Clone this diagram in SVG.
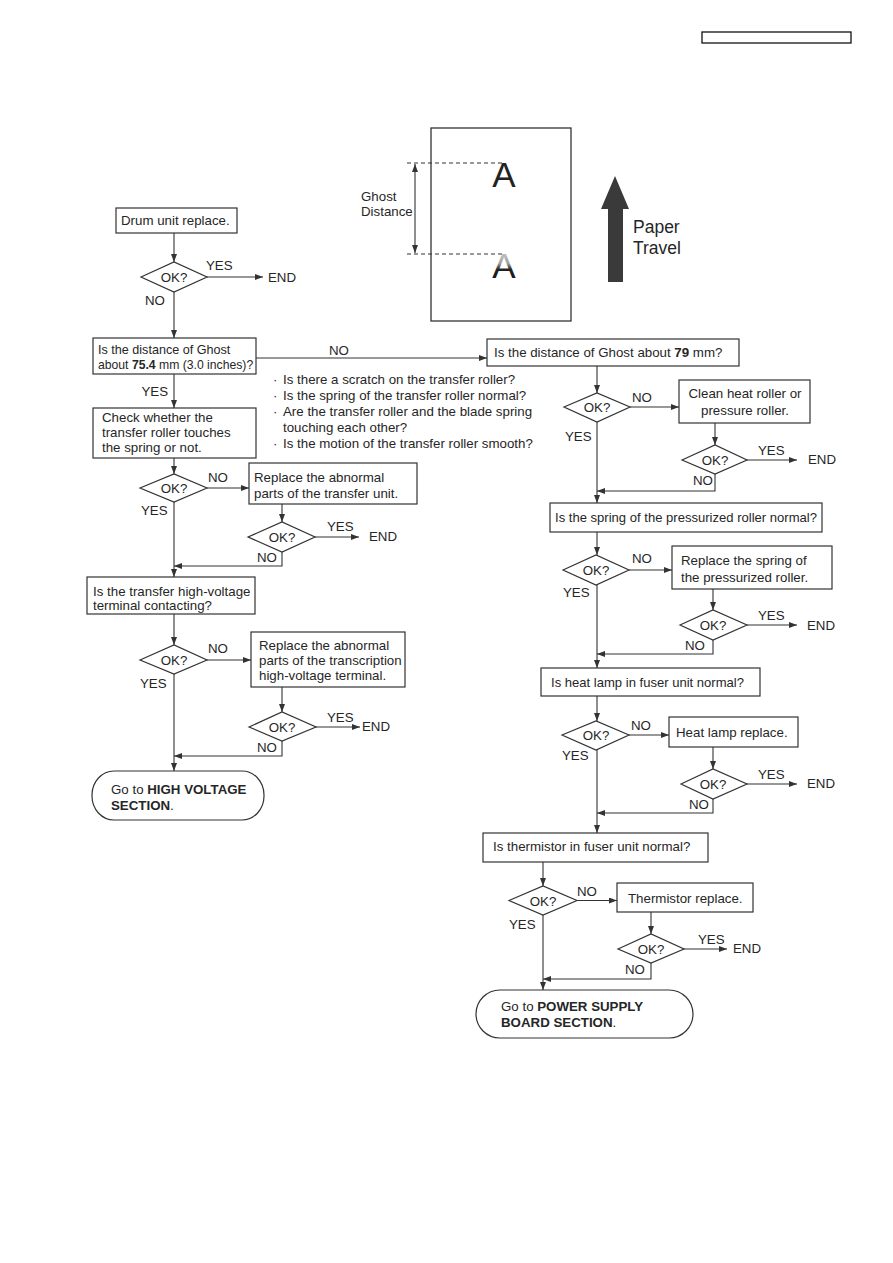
<svg xmlns="http://www.w3.org/2000/svg" width="893" height="1263" viewBox="0 0 893 1263">
<style>
text{font-family:"Liberation Sans",Arial,sans-serif;font-size:13.3px;fill:#262626}
.b{font-weight:bold}
.box{fill:#fff;stroke:#333;stroke-width:1.2}
.ln{fill:none;stroke:#333;stroke-width:1.1}
.m{text-anchor:middle}
</style>
<defs>
<marker id="ah" markerUnits="userSpaceOnUse" markerWidth="8" markerHeight="6" refX="8" refY="3" orient="auto">
<path d="M0,0 L8,3 L0,6 z" fill="#333"/>
</marker>
<marker id="ahs" markerUnits="userSpaceOnUse" markerWidth="8" markerHeight="6" refX="0" refY="3" orient="auto">
<path d="M8,0 L0,3 L8,6 z" fill="#333"/>
</marker>
<linearGradient id="ghost" x1="0" y1="0" x2="0" y2="1">
<stop offset="0" stop-color="#d8d8d8"/>
<stop offset="0.45" stop-color="#a0a0a0"/>
<stop offset="0.6" stop-color="#222"/>
<stop offset="1" stop-color="#111"/>
</linearGradient>
</defs>
<rect id="header" x="702" y="32" width="149" height="11" fill="none" stroke="#111" stroke-width="1.3"/>
<g id="ghost-figure">
<rect x="431" y="128" width="140" height="193" fill="#fff" stroke="#333" stroke-width="1.3"/>
<line x1="407" y1="163" x2="502" y2="163" stroke="#333" stroke-width="1" stroke-dasharray="4,3"/>
<line x1="407" y1="254" x2="502" y2="254" stroke="#333" stroke-width="1" stroke-dasharray="4,3"/>
<line x1="415" y1="164" x2="415" y2="253" stroke="#333" stroke-width="1.1" marker-start="url(#ahs)" marker-end="url(#ah)"/>
<text x="504" y="187" class="m" style="font-size:35px;fill:#222">A</text>
<text x="504" y="278" class="m" style="font-size:35px;fill:url(#ghost)">A</text>
<text x="361" y="201">Ghost</text>
<text x="361" y="216">Distance</text>
<path d="M615,176 L629,209 L623,209 L623,282 L608,282 L608,209 L601,209 Z" fill="#3a3a3a"/>
<text x="633" y="233" style="font-size:17.5px">Paper</text>
<text x="633" y="254" style="font-size:17.5px">Travel</text>
</g>
<g id="connectors">
<line class="ln" x1="174" y1="233" x2="174" y2="262" marker-end="url(#ah)"/>
<line class="ln" x1="207" y1="277" x2="263" y2="277" marker-end="url(#ah)"/>
<line class="ln" x1="174" y1="292" x2="174" y2="338" marker-end="url(#ah)"/>
<line class="ln" x1="256" y1="358" x2="487" y2="358" marker-end="url(#ah)"/>
<line class="ln" x1="174" y1="374" x2="174" y2="408" marker-end="url(#ah)"/>
<line class="ln" x1="174" y1="458" x2="174" y2="474" marker-end="url(#ah)"/>
<line class="ln" x1="207" y1="488" x2="249" y2="488" marker-end="url(#ah)"/>
<line class="ln" x1="282" y1="504" x2="282" y2="522" marker-end="url(#ah)"/>
<line class="ln" x1="315" y1="537" x2="359" y2="537" marker-end="url(#ah)"/>
<polyline class="ln" points="282,552 282,566 174,566" marker-end="url(#ah)"/>
<line class="ln" x1="174" y1="502" x2="174" y2="577" marker-end="url(#ah)"/>
<line class="ln" x1="174" y1="614" x2="174" y2="645" marker-end="url(#ah)"/>
<line class="ln" x1="207" y1="660" x2="251" y2="660" marker-end="url(#ah)"/>
<line class="ln" x1="282" y1="687" x2="282" y2="712" marker-end="url(#ah)"/>
<line class="ln" x1="316" y1="727" x2="360" y2="727" marker-end="url(#ah)"/>
<polyline class="ln" points="282,741 282,756 174,756" marker-end="url(#ah)"/>
<line class="ln" x1="174" y1="674" x2="174" y2="771" marker-end="url(#ah)"/>
<line class="ln" x1="597" y1="366" x2="597" y2="393" marker-end="url(#ah)"/>
<line class="ln" x1="630" y1="407" x2="679" y2="407" marker-end="url(#ah)"/>
<line class="ln" x1="715" y1="423" x2="715" y2="445" marker-end="url(#ah)"/>
<line class="ln" x1="747" y1="460" x2="797" y2="460" marker-end="url(#ah)"/>
<polyline class="ln" points="715,473 715,491 597,491" marker-end="url(#ah)"/>
<line class="ln" x1="597" y1="422" x2="597" y2="503" marker-end="url(#ah)"/>
<line class="ln" x1="597" y1="532" x2="597" y2="555" marker-end="url(#ah)"/>
<line class="ln" x1="629" y1="570" x2="672" y2="570" marker-end="url(#ah)"/>
<line class="ln" x1="713" y1="589" x2="713" y2="610" marker-end="url(#ah)"/>
<line class="ln" x1="747" y1="625" x2="797" y2="625" marker-end="url(#ah)"/>
<polyline class="ln" points="713,640 713,654 597,654" marker-end="url(#ah)"/>
<line class="ln" x1="597" y1="585" x2="597" y2="668" marker-end="url(#ah)"/>
<line class="ln" x1="597" y1="696" x2="597" y2="721" marker-end="url(#ah)"/>
<line class="ln" x1="629" y1="735" x2="669" y2="735" marker-end="url(#ah)"/>
<line class="ln" x1="713" y1="747" x2="713" y2="769" marker-end="url(#ah)"/>
<line class="ln" x1="747" y1="784" x2="797" y2="784" marker-end="url(#ah)"/>
<polyline class="ln" points="713,799 713,813 597,813" marker-end="url(#ah)"/>
<line class="ln" x1="597" y1="750" x2="597" y2="833" marker-end="url(#ah)"/>
<line class="ln" x1="543" y1="862" x2="543" y2="886" marker-end="url(#ah)"/>
<line class="ln" x1="577" y1="900.5" x2="617" y2="900.5" marker-end="url(#ah)"/>
<line class="ln" x1="651" y1="912" x2="651" y2="934" marker-end="url(#ah)"/>
<line class="ln" x1="684" y1="949" x2="727" y2="949" marker-end="url(#ah)"/>
<polyline class="ln" points="651,963 651,979 543,979" marker-end="url(#ah)"/>
<line class="ln" x1="543" y1="915" x2="543" y2="990" marker-end="url(#ah)"/>
</g>
<g id="labels">
<text x="206" y="270">YES</text><text x="268" y="282">END</text><text x="145" y="305">NO</text>
<text x="339" y="355" class="m">NO</text>
<text x="168" y="396" style="text-anchor:end">YES</text>
<text x="208" y="482">NO</text><text x="141" y="515">YES</text>
<text x="327" y="531">YES</text><text x="369" y="541">END</text><text x="257" y="562">NO</text>
<text x="208" y="653">NO</text><text x="140" y="688">YES</text>
<text x="327" y="722">YES</text><text x="362" y="731">END</text><text x="257" y="752">NO</text>
<text x="632" y="402">NO</text><text x="565" y="441">YES</text>
<text x="758" y="455">YES</text><text x="808" y="464">END</text><text x="693" y="485">NO</text>
<text x="632" y="563">NO</text><text x="563" y="597">YES</text>
<text x="758" y="620">YES</text><text x="807" y="630">END</text><text x="685" y="650">NO</text>
<text x="631" y="730">NO</text><text x="562" y="760">YES</text>
<text x="758" y="779">YES</text><text x="807" y="788">END</text><text x="689" y="809">NO</text>
<text x="577" y="896">NO</text><text x="509" y="929">YES</text>
<text x="698" y="944">YES</text><text x="733" y="953">END</text><text x="625" y="974">NO</text>
</g>
<g id="checklist">
<text y="384"><tspan x="273">·</tspan><tspan x="283">Is there a scratch on the transfer roller?</tspan></text>
<text y="400"><tspan x="273">·</tspan><tspan x="283">Is the spring of the transfer roller normal?</tspan></text>
<text y="416"><tspan x="273">·</tspan><tspan x="283">Are the transfer roller and the blade spring</tspan></text>
<text x="283" y="432">touching each other?</text>
<text y="448"><tspan x="273">·</tspan><tspan x="283">Is the motion of the transfer roller smooth?</tspan></text>
</g>
<g id="drum"><rect class="box" x="116" y="208" width="121" height="25"/><text x="121" y="225">Drum unit replace.</text></g>
<g id="d1"><polygon class="box" points="141,277 174,262 207,277 174,292"/><text x="174" y="282" class="m">OK?</text></g>
<g id="ghost-q1"><rect class="box" x="93" y="338" width="163" height="36"/><text x="98" y="354" style="font-size:12.6px">Is the distance of Ghost</text><text x="98" y="369" style="font-size:12.2px">about <tspan class="b">75.4</tspan> mm (3.0 inches)?</text></g>
<g id="check-spring"><rect class="box" x="93" y="408" width="163" height="50"/><text x="102" y="422">Check whether the</text><text x="102" y="437">transfer roller touches</text><text x="102" y="452">the spring or not.</text></g>
<g id="d2"><polygon class="box" points="140,488 174,474 207,488 174,502"/><text x="174" y="493" class="m">OK?</text></g>
<g id="replace-transfer"><rect class="box" x="249" y="463" width="168" height="41"/><text x="254" y="482">Replace the abnormal</text><text x="254" y="498">parts of the transfer unit.</text></g>
<g id="d3"><polygon class="box" points="248,537 282,522 315,537 282,552"/><text x="282" y="542" class="m">OK?</text></g>
<g id="hv-q"><rect class="box" x="87" y="577" width="168" height="37"/><text x="93" y="596">Is the transfer high-voltage</text><text x="93" y="610">terminal contacting?</text></g>
<g id="d4"><polygon class="box" points="140,660 174,645 207,660 174,674"/><text x="174" y="665" class="m">OK?</text></g>
<g id="replace-hv"><rect class="box" x="251" y="632" width="154" height="55"/><text x="259" y="650">Replace the abnormal</text><text x="259" y="665">parts of the transcription</text><text x="259" y="680">high-voltage terminal.</text></g>
<g id="d5"><polygon class="box" points="249,727 282,712 316,727 282,741"/><text x="282" y="732" class="m">OK?</text></g>
<g id="hv-section"><rect class="box" x="92" y="771" width="172" height="49" rx="22" ry="24"/><text x="111" y="794">Go to <tspan class="b">HIGH VOLTAGE</tspan></text><text x="111" y="810"><tspan class="b">SECTION</tspan>.</text></g>
<g id="ghost-q2"><rect class="box" x="487" y="339" width="252" height="27"/><text x="494" y="357">Is the distance of Ghost about <tspan class="b">79</tspan> mm?</text></g>
<g id="d6"><polygon class="box" points="564,407 597,393 630,407 597,422"/><text x="597" y="412" class="m">OK?</text></g>
<g id="clean"><rect class="box" x="679" y="380" width="131" height="43"/><text x="745" y="398" class="m">Clean heat roller or</text><text x="745" y="415" class="m">pressure roller.</text></g>
<g id="d7"><polygon class="box" points="682,460 715,445 747,460 715,474"/><text x="715" y="465" class="m">OK?</text></g>
<g id="spring-q"><rect class="box" x="550" y="503" width="272" height="29"/><text x="555" y="522" textLength="262" lengthAdjust="spacingAndGlyphs">Is the spring of the pressurized roller normal?</text></g>
<g id="d8"><polygon class="box" points="563,570 596,555 629,570 596,585"/><text x="596" y="575" class="m">OK?</text></g>
<g id="replace-spring"><rect class="box" x="672" y="546" width="160" height="43"/><text x="681" y="565">Replace the spring of</text><text x="681" y="582">the pressurized roller.</text></g>
<g id="d9"><polygon class="box" points="680,625 713,610 747,625 713,640"/><text x="713" y="630" class="m">OK?</text></g>
<g id="lamp-q"><rect class="box" x="541" y="668" width="219" height="28"/><text x="551" y="687" textLength="193" lengthAdjust="spacingAndGlyphs">Is heat lamp in fuser unit normal?</text></g>
<g id="d10"><polygon class="box" points="562,735 596,721 629,735 596,750"/><text x="596" y="740" class="m">OK?</text></g>
<g id="lamp-replace"><rect class="box" x="669" y="717" width="129" height="30"/><text x="676" y="737">Heat lamp replace.</text></g>
<g id="d11"><polygon class="box" points="681,784 713,769 747,784 713,799"/><text x="713" y="789" class="m">OK?</text></g>
<g id="thermistor-q"><rect class="box" x="483" y="833" width="225" height="29"/><text x="493" y="851">Is thermistor in fuser unit normal?</text></g>
<g id="d12"><polygon class="box" points="509,900.5 543,886 577,900.5 543,915"/><text x="543" y="905.5" class="m">OK?</text></g>
<g id="thermistor-replace"><rect class="box" x="617" y="883" width="136" height="29"/><text x="628" y="903">Thermistor replace.</text></g>
<g id="d13"><polygon class="box" points="618,949 651,934 684,949 651,963"/><text x="651" y="954" class="m">OK?</text></g>
<g id="psu-section"><rect class="box" x="476" y="990" width="217" height="48" rx="24" ry="24"/><text x="501" y="1011">Go to <tspan class="b">POWER SUPPLY</tspan></text><text x="501" y="1027"><tspan class="b">BOARD SECTION</tspan>.</text></g>
</svg>
